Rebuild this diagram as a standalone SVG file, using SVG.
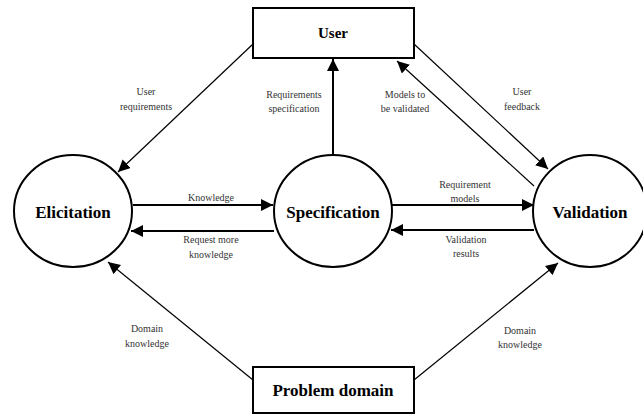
<svg xmlns="http://www.w3.org/2000/svg" width="643" height="416" viewBox="0 0 643 416">
<style>
.node{fill:#fff;stroke:#000;stroke-width:2}
.title{font-family:"Liberation Serif","Times New Roman",Times,serif;font-weight:bold;font-size:17px;fill:#000;text-anchor:middle}
.lbl{font-family:"Liberation Serif","Times New Roman",Times,serif;font-size:10px;fill:#333;text-anchor:middle}
.thick{stroke:#000;stroke-width:2;fill:none;marker-end:url(#ah)}
.thin{stroke:#000;stroke-width:1.2;fill:none;marker-end:url(#ah)}
</style>
<defs>
<marker id="ah" viewBox="0 0 10 10" refX="10" refY="5" markerWidth="12" markerHeight="12" markerUnits="userSpaceOnUse" orient="auto">
<path d="M0,0 L10,5 L0,10 z" fill="#000"/>
</marker>
</defs>
<rect width="643" height="416" fill="#fff"/>
<g id="user"><rect class="node" x="253" y="8" width="161" height="50"/><text class="title" x="333" y="38" style="font-size:15px">User</text></g>
<g id="problem-domain"><rect class="node" x="253" y="367" width="161" height="46"/><text class="title" x="333" y="396">Problem domain</text></g>
<g id="elicitation"><ellipse class="node" cx="73" cy="211" rx="59" ry="56"/><text class="title" x="73" y="218">Elicitation</text></g>
<g id="specification"><ellipse class="node" cx="333" cy="211" rx="59" ry="56"/><text class="title" x="333" y="218">Specification</text></g>
<g id="validation"><ellipse class="node" cx="590" cy="211" rx="57" ry="56"/><text class="title" x="590" y="218">Validation</text></g>
<g id="connectors">
<line class="thin" x1="253" y1="44" x2="118" y2="172"/>
<line class="thick" x1="133" y1="205" x2="273" y2="205"/>
<line class="thick" x1="274" y1="231" x2="131" y2="231"/>
<line class="thick" x1="333" y1="155" x2="333" y2="59"/>
<line class="thin" x1="534" y1="186" x2="397" y2="61"/>
<line class="thin" x1="414" y1="44" x2="548" y2="169"/>
<line class="thick" x1="392" y1="205" x2="534" y2="205"/>
<line class="thick" x1="534" y1="230" x2="391" y2="230"/>
<line class="thin" x1="253" y1="380" x2="108" y2="262"/>
<line class="thin" x1="414" y1="380" x2="558" y2="263"/>
</g>
<g id="labels">
<text class="lbl" x="146" y="95">User</text><text class="lbl" x="146" y="110">requirements</text>
<text class="lbl" x="211" y="201">Knowledge</text>
<text class="lbl" x="211" y="243">Request more</text><text class="lbl" x="211" y="258">knowledge</text>
<text class="lbl" x="294" y="98">Requirements</text><text class="lbl" x="294" y="112">specification</text>
<text class="lbl" x="405" y="98">Models to</text><text class="lbl" x="405" y="112">be validated</text>
<text class="lbl" x="522" y="95">User</text><text class="lbl" x="522" y="110">feedback</text>
<text class="lbl" x="465" y="188">Requirement</text><text class="lbl" x="465" y="202">models</text>
<text class="lbl" x="466" y="243">Validation</text><text class="lbl" x="466" y="257">results</text>
<text class="lbl" x="147" y="332">Domain</text><text class="lbl" x="147" y="347">knowledge</text>
<text class="lbl" x="520" y="334">Domain</text><text class="lbl" x="520" y="348">knowledge</text>
</g>
</svg>
